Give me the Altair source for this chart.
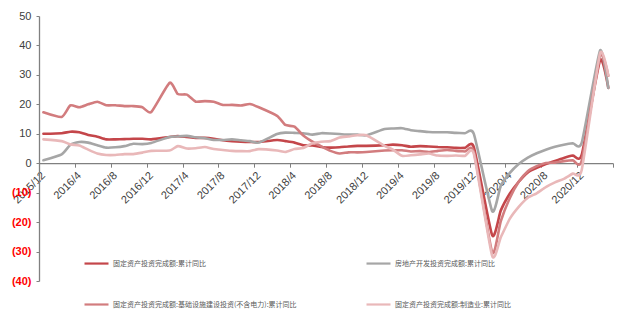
import altair as alt
import pandas as pd

# Month labels (Wind-style: no January data point)
months = (["2015/12"]
          + [f"2016/{m}" for m in range(2, 13)]
          + [f"2017/{m}" for m in range(2, 13)]
          + [f"2018/{m}" for m in range(2, 13)]
          + [f"2019/{m}" for m in range(2, 13)]
          + [f"2020/{m}" for m in range(2, 13)]
          + ["2021/2", "2021/3"])

name_fai = "固定资产投资完成额:累计同比"
name_re = "房地产开发投资完成额:累计同比"
name_infra = "固定资产投资完成额:基础设施建设投资(不含电力):累计同比"
name_mfg = "固定资产投资完成额:制造业:累计同比"

# legend is filled column by column: col 1 = FAI, infra ; col 2 = real estate, manufacturing
series_names = [name_fai, name_infra, name_re, name_mfg]
series_colors = ["#C4464A", "#D27C7E", "#A6A6A6", "#E9B8B9"]

fai = [10.0,
       10.2, 10.7, 10.5, 9.6, 9.0, 8.1, 8.1, 8.2, 8.3, 8.3, 8.1,
       8.9, 9.2, 8.9, 8.6, 8.6, 8.3, 7.8, 7.5, 7.3, 7.2, 7.2,
       7.9, 7.5, 7.0, 6.1, 6.0, 5.5, 5.3, 5.4, 5.7, 5.9, 5.9,
       6.1, 6.3, 6.1, 5.6, 5.8, 5.7, 5.5, 5.4, 5.2, 5.2, 5.4,
       -24.5, -16.1, -10.3, -6.3, -3.1, -1.6, -0.3, 0.8, 1.8, 2.6, 2.9,
       35.0, 25.6]
real_estate = [1.0,
               3.0, 6.2, 7.2, 7.0, 6.1, 5.3, 5.4, 5.8, 6.6, 6.5, 6.9,
               8.9, 9.1, 9.3, 8.8, 8.5, 7.9, 7.9, 8.1, 7.8, 7.5, 7.0,
               9.9, 10.4, 10.3, 10.2, 9.7, 10.2, 10.1, 9.9, 9.7, 9.7, 9.5,
               11.6, 11.8, 11.9, 11.2, 10.9, 10.6, 10.5, 10.5, 10.3, 10.2, 9.9,
               -16.3, -7.7, -3.3, -0.3, 1.9, 3.4, 4.6, 5.6, 6.3, 6.8, 7.0,
               38.3, 25.6]
infra = [17.3,
         15.7, 19.6, 19.0, 20.0, 20.9, 19.7, 19.7, 19.4, 19.4, 19.0, 17.4,
         27.3, 23.5, 23.3, 20.9, 21.1, 20.9, 19.8, 19.8, 19.6, 20.1, 19.0,
         16.1, 13.0, 12.4, 9.4, 7.3, 5.7, 4.2, 3.3, 3.7, 3.7, 3.8,
         4.3, 4.4, 4.4, 4.0, 4.1, 3.8, 4.2, 4.5, 4.2, 4.0, 3.8,
         -30.3, -19.7, -11.8, -6.3, -2.7, -1.0, 0.1, 0.2, 0.7, 1.0, 0.9,
         36.6, 29.7]
manufacturing = [8.1,
                 7.5, 6.4, 6.0, 4.6, 3.3, 2.8, 2.8, 3.1, 3.1, 3.6, 4.2,
                 4.3, 5.8, 5.0, 5.1, 5.5, 4.8, 4.5, 4.2, 4.1, 4.1, 4.8,
                 4.3, 3.8, 4.8, 5.2, 6.8, 7.3, 7.5, 8.7, 9.1, 9.5, 9.5,
                 5.9, 4.6, 2.5, 2.7, 3.0, 3.3, 2.6, 2.5, 2.6, 2.5, 3.1,
                 -31.5, -25.2, -18.8, -14.8, -11.7, -10.2, -8.1, -6.5, -5.3, -3.5, -2.2,
                 37.3, 29.8]

tick_labels = ["2015/12", "2016/4", "2016/8", "2016/12", "2017/4", "2017/8",
               "2017/12", "2018/4", "2018/8", "2018/12", "2019/4", "2019/8",
               "2019/12", "2020/4", "2020/8", "2020/12"]

y_ticks = [-40, -30, -20, -10, 0, 10, 20, 30, 40, 50]

# ---- build table ----
def mid_month(label):
    y, m = label.split("/")
    return f"{int(y):04d}-{int(m):02d}-16T00:00:00"

rows = []
for name, vals in [(name_fai, fai), (name_re, real_estate),
                   (name_infra, infra), (name_mfg, manufacturing)]:
    for order, (mo, v) in enumerate(zip(months, vals)):
        rows.append({"date": mid_month(mo), "value": v, "series": name,
                     "order": order})
df = pd.DataFrame(rows)

def dt(label):
    y, m = label.split("/")
    return alt.DateTime(year=int(y), month=int(m), date=1)

tick_values = [dt(t) for t in tick_labels] + [dt("2021/4")]

x_axis = alt.Axis(
    values=tick_values,
    labelExpr="year(datum.value) == 2021 ? '' : timeFormat(datum.value, '%Y/%-m')",
    labelAngle=-45,
    labelFont="Liberation Sans",
    labelFontSize=11,
    labelColor="#404040",
    labelPadding=2,
    offset=-117.8,
    domainColor="#808080",
    domainWidth=1.3,
    tickColor="#808080",
    tickSize=4,
    grid=False,
    title=None,
)

y_axis = alt.Axis(
    values=y_ticks,
    labelExpr="datum.value < 0 ? '(' + abs(datum.value) + ')' : datum.value",
    labelColor={"condition": {"test": "datum.value < 0", "value": "#FF0000"},
                "value": "#404040"},
    labelFontWeight={"condition": {"test": "datum.value < 0", "value": "bold"},
                     "value": "normal"},
    labelFont="Liberation Sans",
    labelFontSize=11,
    labelPadding=5,
    domainColor="#808080",
    domainWidth=1.3,
    tickColor="#808080",
    tickSize=3,
    grid=False,
    title=None,
)

legend = alt.Legend(
    orient="none",
    legendX=44,
    legendY=234,
    columns=2,
    columnPadding=65,
    rowPadding=23,
    symbolType="stroke",
    symbolSize=576,
    symbolStrokeWidth=2.2,
    labelFont="Noto Sans CJK SC",
    labelFontSize=7,
    labelColor="#595959",
    labelLimit=400,
    labelOffset=3,
    title=None,
)

lines = []
for name in [name_fai, name_re, name_infra, name_mfg]:
    lines.append(
        alt.Chart(df).transform_filter(alt.datum.series == name).mark_line(
            interpolate="cardinal", tension=0.45, strokeWidth=2.6, strokeCap="round"
        ).encode(
            x=alt.X("date:T",
                    scale=alt.Scale(domain=[dt("2015/12"), dt("2021/4")]),
                    axis=x_axis),
            y=alt.Y("value:Q",
                    scale=alt.Scale(domain=[-40, 50], nice=False, zero=False),
                    axis=y_axis),
            color=alt.Color("series:N",
                            scale=alt.Scale(domain=series_names, range=series_colors),
                            legend=legend),
            order=alt.Order("order:Q"),
        )
    )

chart = alt.layer(*lines).properties(
    width=574,
    height=265,
    padding={"left": 31, "top": 8, "right": 1, "bottom": 28},
    autosize=alt.AutoSizeParams(type="none"),
    background="white",
).configure_view(stroke=None)

chart.save("out.html", embed_options={"renderer": "svg", "actions": False})
